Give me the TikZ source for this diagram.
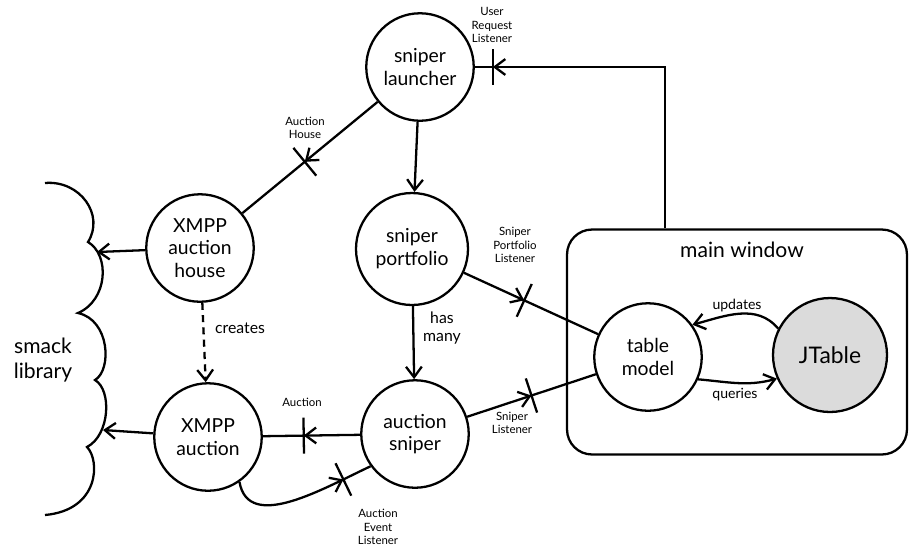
\documentclass[tikz,border=0pt]{standalone}
\usepackage{fontspec}
\setmainfont{Lato}
\usetikzlibrary{arrows.meta,decorations.markings}
\definecolor{jtablefill}{gray}{0.86}
\tikzset{
    actor/.style={
        circle, draw, minimum size=2.15cm, inner sep=1pt, align=center,
        font=\fontsize{11}{13}\selectfont
    },
    tag/.style={align=center, inner sep=1pt, font=\fontsize{6.5}{7.5}\selectfont},
    verb/.style={align=center, inner sep=1pt, font=\fontsize{9}{10}\selectfont},
    uses/.style={-{Straight Barb[length=6pt,width=9pt]}},
    iface/.style={
        postaction=decorate,
        decoration={markings,
        mark=at position #1 with {
            \arrow{Straight Barb[length=6pt,width=9pt]};
            \draw (0,-0.36cm) -- (0,0.36cm);
        }
        }
    }
}
\begin{document}
\begin{tikzpicture}[x=0.02cm, y=-0.02cm, line width=1.3pt]
    \useasboundingbox (0,0) rectangle (910,549);
    \node[actor] (launcher) at (420,67) {sniper\\launcher};
    \node[actor] (house) at (200,248) {XMPP\\auction\\house};
    \node[actor, minimum size=2.24cm] (portfolio) at (412,249) {sniper\\portfolio};
    \node[actor] (xauction) at (208,437) {XMPP\\auction};
    \node[actor] (sniper) at (415,434) {auction\\sniper};
    \node[draw, rounded corners=0.5cm, minimum width=6.8cm, minimum height=4.5cm] (window) at (737,342) {};
    \node[font=\fontsize{12}{14}\selectfont] (windowname) at (742,250) {main window};
    \node[actor] (model) at (648,357) {table\\model};
    \node[actor, fill=jtablefill, minimum size=2.28cm, font=\fontsize{13}{15}\selectfont] (jtable) at (830,355) {JTable};
    \draw (45,183) .. controls (80,180) and (105,215) .. (88,242)
        .. controls (110,255) and (108,300) .. (78,313)
        .. controls (110,320) and (112,370) .. (95,380)
        .. controls (112,390) and (110,435) .. (87,447)
        .. controls (100,460) and (100,510) .. (45,515);
    \node[font=\fontsize{12}{14}\selectfont, align=center] (smack) at (43,360) {smack\\library};
    \coordinate (cloudhi) at (97,252);
    \coordinate (cloudlo) at (103,430);
    \draw[uses] (house) -- (cloudhi);
    \draw[uses] (xauction) -- (cloudlo);
    \draw[uses, dash pattern=on 4pt off 3pt] (house) -- (xauction);
    \draw[uses] (launcher) -- (portfolio);
    \draw[uses] (portfolio) -- (sniper);
    \draw[iface=0.54] (launcher) -- (house);
    \draw[iface=-0.36cm] ([xshift=-1.44cm]window.north) |- (launcher);
    \draw[iface=0.58] (sniper) -- (xauction);
    \draw[iface=0.8] (xauction.-55) to[out=-80, in=205] (sniper.216);
    \draw[iface=0.5] (sniper) -- (model);
    \draw[iface=0.45] (portfolio) -- (model);
    \draw[uses] (jtable.153) to[out=130, in=15] (model.36);
    \draw[uses] (model.-24) to[out=-5, in=195] (jtable.204);
    \node[tag] (requesthint) at (492,25) {User\\Request\\Listener};
    \node[tag] (househint) at (305,128) {Auction\\House};
    \node[verb] (creates) at (240,328) {creates};
    \node[verb] (hasmany) at (442,328) {has\\many};
    \node[tag] (auctionhint) at (302,402) {Auction};
    \node[tag] (eventhint) at (378,527) {Auction\\Event\\Listener};
    \node[tag] (sniperhint) at (512,423) {Sniper\\Listener};
    \node[tag] (portfoliohint) at (515,245) {Sniper\\Portfolio\\Listener};
    \node[verb, font=\fontsize{8}{9}\selectfont] (updates) at (737,306) {updates};
    \node[verb, font=\fontsize{8}{9}\selectfont] (queries) at (735,395) {queries};
\end{tikzpicture}
\end{document}
